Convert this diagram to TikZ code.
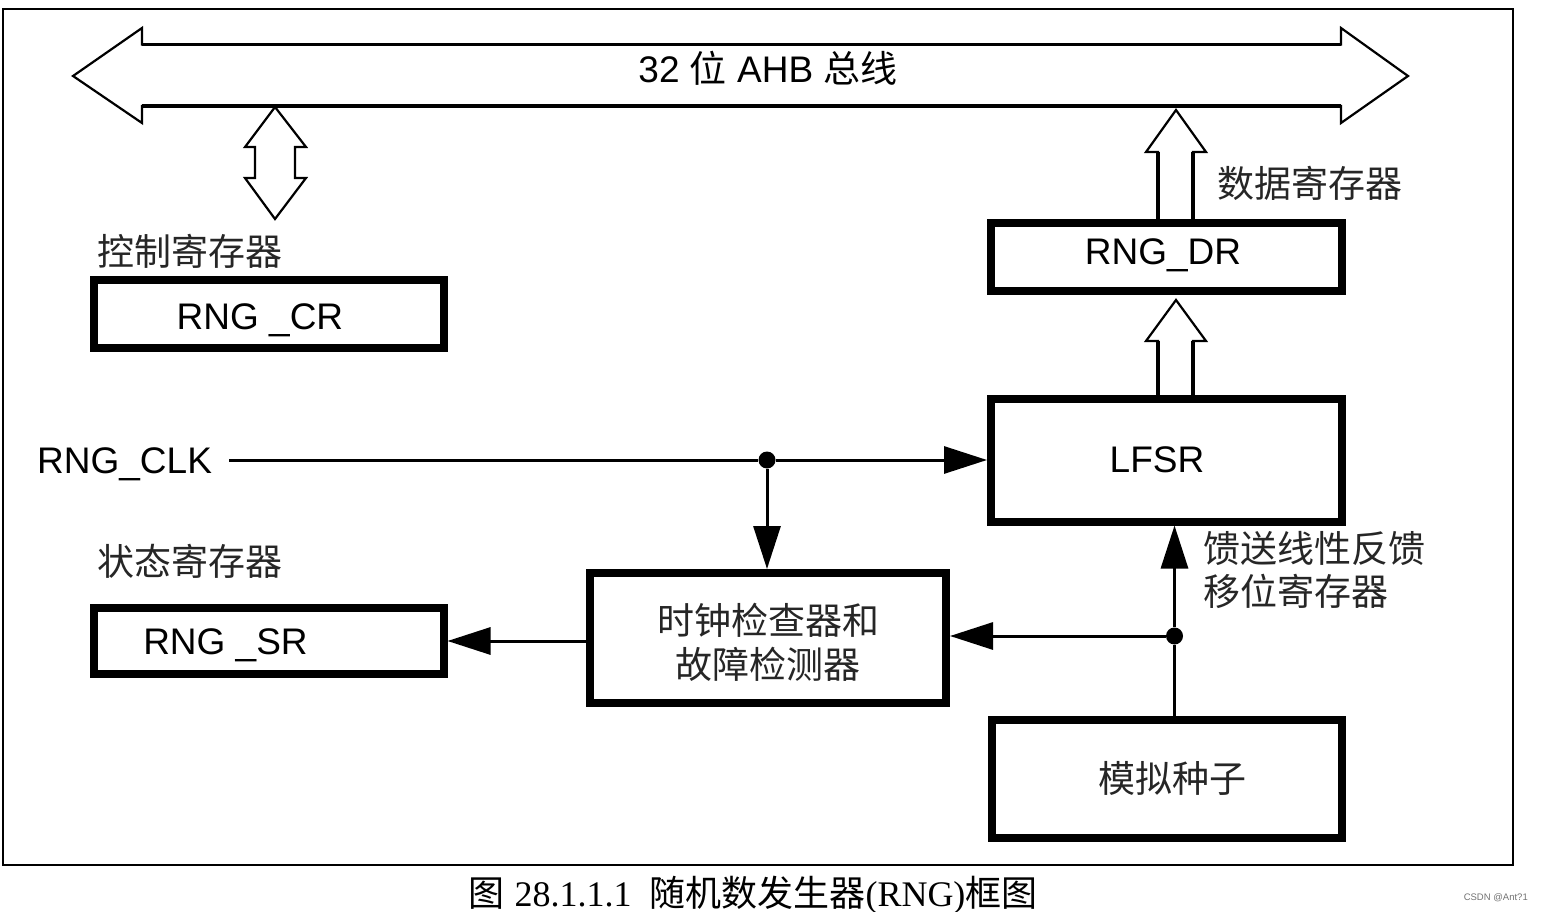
\documentclass[tikz,border=0pt]{standalone}
\usepackage{fontspec}
\setmainfont{Liberation Sans}
\newfontfamily\cjk{Noto Sans CJK SC}
\newfontfamily\capfont{Liberation Serif}
\usetikzlibrary{arrows.meta,calc}
\tikzset{
  regbox/.style={draw, line width=8pt, inner sep=0pt},
  conn/.style={line width=3pt},
  arr/.style={conn, -{Triangle[length=43pt,width=27pt]}},
  dotnode/.style={circle, fill, inner sep=0pt, minimum size=17pt},
  lat/.style={font=\fontsize{37}{44}\selectfont, inner sep=0pt, text=black},
  zh/.style={font=\cjk\fontsize{37}{44}\selectfont, inner sep=0pt, text=black!85},
  hollow/.style={line width=2.2pt, line join=miter},
  shaft/.style={line width=3.2pt},
}
\begin{document}
\begin{tikzpicture}[x=1pt,y=-1pt]
\useasboundingbox (0,0) rectangle (1543,912);
\fill[white] (0,0) rectangle (1543,912);
% outer frame
\draw[line width=2pt] (3,9) rectangle (1513,865);

% AHB bus double arrow
\draw[hollow] (73,76) -- (142,28) -- (142,44.5) -- (1341,44.5) -- (1341,28) -- (1408,76)
   -- (1341,123) -- (1341,106) -- (142,106) -- (142,123) -- cycle;
\draw[shaft] (142,44.5) -- (1341,44.5);
\draw[shaft] (142,106) -- (1341,106);
\node[lat, anchor=base] (bus) at (768,83) {32 {\cjk 位} AHB {\cjk 总线}};

% register boxes
\node[regbox, minimum width=349.5pt, minimum height=67.5pt] (cr) at (268.75,313.75) {};
\node[regbox, minimum width=349.5pt, minimum height=66pt] (sr) at (268.75,641) {};
\node[regbox, minimum width=350.5pt, minimum height=67.5pt] (dr) at (1166.25,257.25) {};
\node[regbox, minimum width=350.5pt, minimum height=122.5pt] (lfsr) at (1166.25,460.25) {};
\node[regbox, minimum width=356pt, minimum height=129.5pt] (check) at (768,637.75) {};
\node[regbox, minimum width=349.5pt, minimum height=118.5pt] (seed) at (1166.75,778.75) {};

% box texts
\node[lat, anchor=base] (crt) at (260,329) {RNG \_CR};
\node[lat, anchor=base] (srt) at (225.5,654) {RNG \_SR};
\node[lat, anchor=base] (drt) at (1163,265) {RNG\_DR};
\node[lat, anchor=base] (lfsrt) at (1157,472) {LFSR};
\node[zh] (checkt1) at (768,620) {时钟检查器和};
\node[zh] (checkt2) at (768,664) {故障检测器};
\node[zh] (seedt) at (1172,778) {模拟种子};

% labels
\node[zh, anchor=west] (crl) at (97,251) {控制寄存器};
\node[zh, anchor=west] (srl) at (97,561) {状态寄存器};
\node[zh, anchor=west] (drl) at (1217,183) {数据寄存器};
\node[zh, anchor=west] (lfsrl1) at (1203,548) {馈送线性反馈};
\node[zh, anchor=west] (lfsrl2) at (1203,591) {移位寄存器};
\node[lat, anchor=base west] (clk) at (37,473) {RNG\_CLK};

% bus <-> control register hollow double arrow
\draw[hollow] (275,107) -- (306,147) -- (295,147) -- (295,178) -- (306,178) -- (275,219)
   -- (245,178) -- (255,178) -- (255,147) -- (245,147) -- cycle;

% data register -> bus hollow arrow
\draw[hollow] (1158,221) -- (1158,152) -- (1146,152) -- (1176,110) -- (1206,152) -- (1193,152) -- (1193,221);
\draw[shaft] (1158,221) -- (1158,152);
\draw[shaft] (1193,221) -- (1193,152);
% LFSR -> data register hollow arrow
\draw[hollow] (1158,397) -- (1158,341) -- (1146,341) -- (1176,300) -- (1206,341) -- (1193,341) -- (1193,397);
\draw[shaft] (1158,397) -- (1158,341);
\draw[shaft] (1193,397) -- (1193,341);

% clock connections
\coordinate (clkstart) at (229,460);
\node[dotnode] (clkdot) at (767,460) {};
\draw[conn] (clkstart) -- (clkdot);
\draw[arr] (clkdot) -- (lfsr.west |- clkdot);
\draw[arr] (clkdot) -- (clkdot |- check.north);

% check -> status register
\draw[arr] (check.west |- sr.east) -- (sr.east);

% analog seed feedback
\node[dotnode] (fbdot) at (1174.5,636) {};
\draw[conn] (seed.north -| fbdot) -- (fbdot);
\draw[arr] (fbdot) -- (lfsr.south -| fbdot);
\draw[arr] (fbdot) -- (check.east |- fbdot);

% caption
\node[font=\fontsize{36}{40}\selectfont, inner sep=0pt, anchor=base] (cap) at (753,906)
  {{\cjk 图} {\capfont 28.1.1.1}\hspace{0.5em}{\cjk 随机数发生器}{\capfont (RNG)}{\cjk 框图}};
\node[font=\fontsize{9.5}{11}\selectfont, text=black!55, inner sep=0pt, anchor=east] (wm) at (1528,898) {CSDN @Ant?1};
\end{tikzpicture}
\end{document}
